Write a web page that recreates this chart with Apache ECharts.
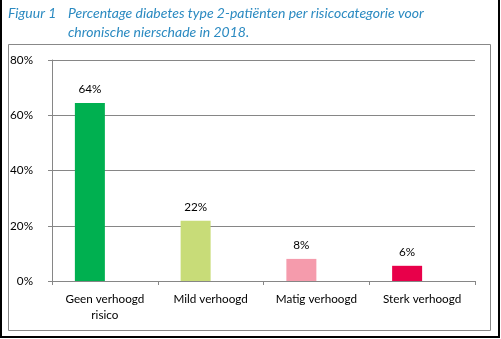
<!DOCTYPE html>
<html><head><meta charset="utf-8">
<script src="https://cdn.jsdelivr.net/npm/echarts@6/dist/echarts.min.js"></script>
<style>html,body{margin:0;padding:0;background:#fff}#c{width:501px;height:339px}</style>
</head><body><div id="c"></div>
<script>
const categories = ['Geen verhoogd\nrisico', 'Mild verhoogd', 'Matig verhoogd', 'Sterk verhoogd'];
const values = [64.4, 21.8, 8.0, 5.5];
const barColors = ['#00B050', '#C8DC78', '#F59BAC', '#E8004A'];
const yTicks = [0, 20, 40, 60, 80];
const titleLabel = 'Figuur 1';
const titleText = 'Percentage diabetes type 2-patiënten per risicocategorie voor\nchronische nierschade in 2018.';

const chart = echarts.init(document.getElementById('c'), null, {renderer: 'canvas'});
const fontFam = 'Lato, "Open Sans", sans-serif';
chart.setOption({
  animation: false,
  textStyle: {fontFamily: fontFam},
  title: [
    {text: titleLabel, left: 8, top: 4, padding: 0, textStyle: {fontFamily: fontFam, fontStyle: 'italic', fontWeight: 'normal', fontSize: 14, color: '#2B8AC1', lineHeight: 19}},
    {text: titleText, left: 68, top: 4, padding: 0, textStyle: {fontFamily: fontFam, fontStyle: 'italic', fontWeight: 'normal', fontSize: 14, color: '#2B8AC1', lineHeight: 19}}
  ],
  graphic: [
    {type: 'rect', shape: {x: 8.5, y: 44.5, width: 482, height: 286}, style: {fill: 'none', stroke: '#888888', lineWidth: 1}, z: -1},
    {type: 'rect', shape: {x: 1, y: -5, width: 498, height: 342}, style: {fill: 'none', stroke: '#000000', lineWidth: 2}, z: -1}
  ],
  grid: {left: 52, right: 26, top: 60, bottom: 58},
  xAxis: {
    type: 'category',
    data: categories,
    axisLine: {lineStyle: {color: '#868686'}},
    axisTick: {show: true, length: 4, lineStyle: {color: '#868686'}},
    axisLabel: {color: '#000', fontSize: 11.7, margin: 10, lineHeight: 16, interval: 0}
  },
  yAxis: {
    type: 'value',
    min: yTicks[0], max: yTicks[yTicks.length - 1], interval: 20,
    axisLine: {show: true, lineStyle: {color: '#868686'}},
    axisTick: {show: true, length: 4, lineStyle: {color: '#868686'}},
    splitLine: {lineStyle: {color: '#868686'}},
    axisLabel: {color: '#000', fontSize: 11.7, margin: 19, formatter: v => v + '%'}
  },
  series: [
    {
      type: 'bar', barWidth: 30, barGap: '0%',
      data: values.map((v, i) => ({value: v, itemStyle: {color: barColors[i]}})),
      label: {show: true, position: 'top', distance: 8, color: '#000', fontSize: 11.7, formatter: p => Math.round(p.value) + '%'}
    },
    {
      type: 'bar', barWidth: 30, barGap: '0%',
      data: values.map(() => null)
    }
  ]
});
</script></body></html>
